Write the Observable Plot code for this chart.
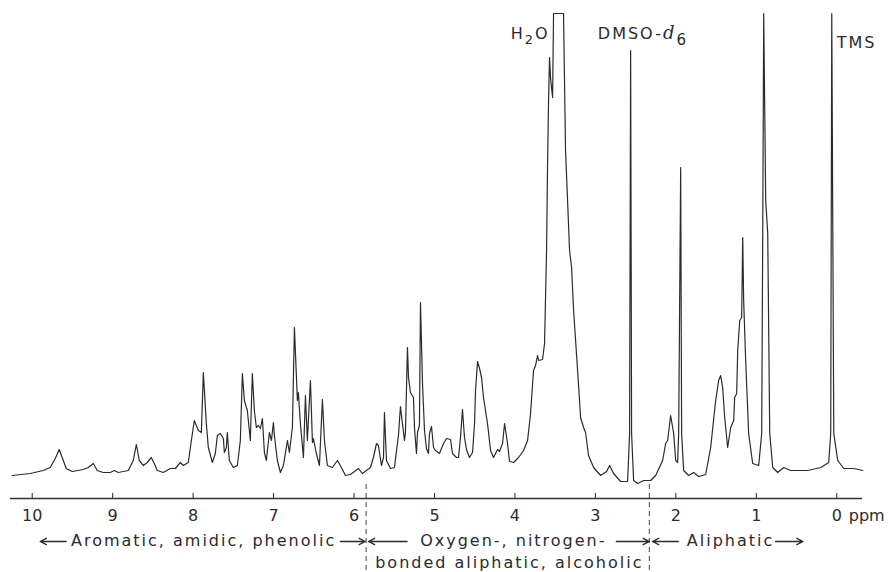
<!DOCTYPE html>
<html>
<head>
<meta charset="utf-8">
<script src="https://cdn.jsdelivr.net/npm/d3@7"></script>
<script src="https://cdn.jsdelivr.net/npm/@observablehq/plot@0.6"></script>
<style>
  html, body { margin: 0; padding: 0; background: #fff; }
  #chart svg { display: block; }
</style>
</head>
<body>
<div id="chart"></div>
<script>
// Chemical shift (ppm) and recorder intensity (arbitrary units)
const shiftPpm = [
  10.249,10.025,9.863,9.776,9.714,9.664,9.614,9.577,9.502,9.366,
  9.303,9.241,9.192,9.117,9.030,8.980,8.930,8.806,8.744,8.706,
  8.669,8.619,8.570,8.520,8.483,8.445,8.371,8.284,8.221,8.159,
  8.122,8.060,8.022,7.985,7.935,7.898,7.873,7.836,7.811,7.761,
  7.724,7.699,7.662,7.624,7.612,7.587,7.575,7.550,7.500,7.450,
  7.413,7.388,7.363,7.326,7.289,7.264,7.239,7.214,7.189,7.164,
  7.139,7.114,7.090,7.052,7.027,7.002,6.990,6.953,6.915,6.878,
  6.828,6.803,6.766,6.741,6.704,6.692,6.667,6.629,6.604,6.580,
  6.542,6.517,6.505,6.468,6.430,6.393,6.368,6.331,6.269,6.206,
  6.157,6.107,6.045,5.945,5.896,5.796,5.759,5.721,5.697,5.659,
  5.634,5.622,5.597,5.547,5.498,5.448,5.423,5.398,5.373,5.361,
  5.336,5.323,5.299,5.261,5.249,5.224,5.211,5.187,5.174,5.149,
  5.124,5.100,5.075,5.062,5.037,5.012,4.988,4.938,4.888,4.851,
  4.801,4.776,4.726,4.701,4.677,4.652,4.627,4.602,4.565,4.527,
  4.502,4.490,4.465,4.440,4.415,4.391,4.341,4.303,4.266,4.216,
  4.192,4.154,4.129,4.092,4.067,4.017,3.955,3.893,3.843,3.806,
  3.769,3.744,3.719,3.706,3.657,3.632,3.607,3.595,3.582,3.570,
  3.557,3.532,3.520,3.396,3.371,3.321,3.296,3.271,3.221,3.184,
  3.147,3.122,3.085,3.022,2.935,2.861,2.823,2.774,2.687,2.600,
  2.575,2.562,2.550,2.525,2.475,2.400,2.313,2.251,2.164,2.127,
  2.102,2.065,2.027,2.002,1.978,1.965,1.940,1.928,1.903,1.841,
  1.779,1.716,1.629,1.567,1.505,1.468,1.443,1.418,1.393,1.356,
  1.318,1.281,1.269,1.244,1.231,1.206,1.182,1.169,1.157,1.132,
  1.095,1.045,0.970,0.933,0.920,0.908,0.883,0.858,0.833,0.796,
  0.734,0.659,0.572,0.361,0.199,0.100,0.075,0.062,0.037,-0.012,
  -0.087,-0.211,-0.323
];
const intensity = [
  5,7,10,13,22,31,20,12,9,11,
  13,17,10,8,8,10,8,10,20,36,
  20,15,18,23,17,10,8,12,12,18,
  15,18,40,60,50,48,108,57,33,18,
  27,45,47,42,28,33,48,20,13,15,
  40,107,80,70,40,107,70,53,55,52,
  62,28,20,48,40,58,45,20,8,15,
  40,28,53,153,80,88,57,23,85,40,
  100,38,42,27,15,81,40,15,13,20,
  13,5,6,12,7,13,23,37,35,15,
  23,68,20,12,13,45,74,57,40,48,
  133,103,88,83,53,27,48,55,178,97,
  50,32,27,47,54,33,30,27,37,42,
  41,27,23,23,43,71,43,31,23,28,
  57,90,119,112,103,83,57,30,23,31,
  29,37,57,37,19,18,23,30,40,67,
  110,115,125,120,121,137,230,313,380,423,
  402,383,467,467,330,230,213,170,110,63,
  53,48,25,13,5,9,15,7,-1,-1,
  47,430,47,0,-3,0,0,5,20,37,
  40,65,47,20,18,47,313,47,10,5,
  8,4,6,33,80,100,105,93,63,33,
  53,60,83,87,130,160,163,243,180,120,
  47,17,15,47,247,467,280,247,47,13,
  8,13,10,10,13,18,47,467,47,20,
  12,12,10
];

const xTicks = [10, 9, 8, 7, 6, 5, 4, 3, 2, 1, 0];
const unitLabel = "ppm";

// Region boundaries (ppm) shown as dashed lines
const regionBounds = [5.85, 2.33];

// Peak annotations
const peakLabels = ["H2O", "DMSO-d6", "TMS"];
const peakLabelPpm = [3.81, 2.97, 0.0];

// Region labels
const regionLabels = ["Aromatic, amidic, phenolic", "Oxygen-, nitrogen-", "Aliphatic"];
const regionLabelPpm = [7.87, 4.02, 1.32];
const regionSubLabels = ["bonded aliphatic, alcoholic"];
const regionSubLabelPpm = [4.07];

// Range arrows (ppm): from text edge toward region boundary
const arrowFrom = [9.58, 6.17, 5.34, 2.74, 1.97, 0.76];
const arrowTo   = [9.90, 5.86, 5.82, 2.33, 2.29, 0.42];

const intensityFloor = -18;
const intensityCeiling = 467;

const idx = d3.range(shiftPpm.length);
const arrowIdx = d3.range(arrowFrom.length);
const ink = "#2b2b2b";

const chart = Plot.plot({
  width: 888,
  height: 572,
  marginLeft: 10,
  marginRight: 26,
  marginTop: 13,
  marginBottom: 74,
  style: {fontFamily: "'DejaVu Sans', sans-serif", fontSize: "16px", color: "#222", background: "#fff", overflow: "visible"},
  x: {domain: [10.27, -0.32], ticks: xTicks, tickSize: -5, tickPadding: 16, tickFormat: d => String(d), label: null},
  y: {domain: [intensityFloor, intensityCeiling], axis: null},
  marks: [
    Plot.ruleY([intensityFloor], {stroke: "#333", strokeWidth: 1.5}),
    Plot.ruleX(regionBounds, {y1: -4, y2: -92, stroke: "#444", strokeWidth: 1, strokeDasharray: "5,4"}),
    Plot.line(idx, {x: i => shiftPpm[i], y: i => intensity[i], stroke: ink, strokeWidth: 1.2, strokeLinejoin: "round"}),
    Plot.text([0], {x: i => peakLabelPpm[i], text: i => peakLabels[i], frameAnchor: "top", dy: 14, textAnchor: "middle", fill: ink}),
    Plot.text([1], {x: i => peakLabelPpm[i], text: i => peakLabels[i], frameAnchor: "top", dy: 14, textAnchor: "start", fill: ink}),
    Plot.text([2], {x: i => peakLabelPpm[i], text: i => peakLabels[i], frameAnchor: "top", dy: 23, textAnchor: "start", fill: ink}),
    Plot.text(d3.range(regionLabels.length), {x: i => regionLabelPpm[i], text: i => regionLabels[i], frameAnchor: "bottom", dy: 47, fill: ink}),
    Plot.text(d3.range(regionSubLabels.length), {x: i => regionSubLabelPpm[i], text: i => regionSubLabels[i], frameAnchor: "bottom", dy: 69, fill: ink}),
    Plot.arrow(arrowIdx, {x1: i => arrowFrom[i], x2: i => arrowTo[i], y1: -61, y2: -61, stroke: ink, strokeWidth: 1.3, headLength: 8, headAngle: 55}),
    Plot.text([unitLabel], {x: xTicks[xTicks.length - 1], text: d => d, frameAnchor: "bottom", dy: 22, dx: 12, textAnchor: "start", fill: ink})
  ]
});

// Rich text for chemical labels (subscripts / italics) and letter spacing
const ns = "http://www.w3.org/2000/svg";
function rich(t, parts) {
  t.textContent = "";
  for (const p of parts) {
    const s = document.createElementNS(ns, "tspan");
    s.textContent = p.text;
    if (p.attrs) for (const k in p.attrs) s.setAttribute(k, p.attrs[k]);
    t.appendChild(s);
  }
}
chart.querySelectorAll("text").forEach(t => {
  const s = t.textContent;
  if (peakLabels.includes(s) || regionLabels.includes(s) || regionSubLabels.includes(s)) {
    t.style.letterSpacing = "2px";
  }
  if (s === "H2O") {
    rich(t, [{text: "H"}, {text: "2", attrs: {dy: "5", "font-size": "13"}}, {text: "O", attrs: {dy: "-5"}}]);
  } else if (s === "DMSO-d6") {
    rich(t, [{text: "DMSO-"},
             {text: "d", attrs: {"font-style": "italic", "font-family": "'DejaVu Serif', serif", "font-size": "18"}},
             {text: "6", attrs: {dy: "6", "font-size": "15"}}]);
  }
});
chart.querySelectorAll('g[aria-label="x-axis tick label"] text, g[aria-label="x-axis tick-label"] text').forEach(t => t.setAttribute("fill", ink));

document.getElementById("chart").appendChild(chart);
</script>
</body>
</html>
